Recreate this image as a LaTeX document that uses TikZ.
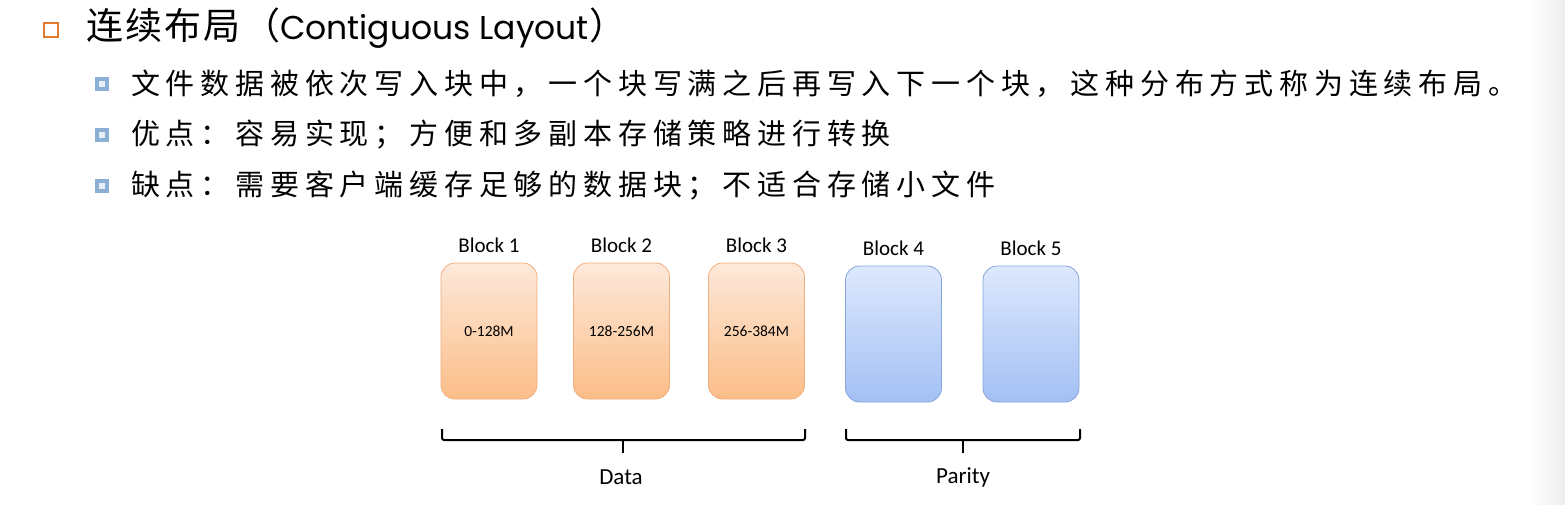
\documentclass[tikz,border=0pt]{standalone}
\usepackage{fontspec}
\setmainfont{Carlito}
\newfontfamily\cjk[LetterSpace=20]{Noto Sans CJK SC}
\newfontfamily\cjkt[LetterSpace=6]{Noto Sans CJK SC}
\newfontfamily\geo{Poppins}
\definecolor{otop}{HTML}{FDE9DA}
\definecolor{obot}{HTML}{FBBD88}
\definecolor{oline}{HTML}{F1AE7E}
\definecolor{btop}{HTML}{DDE8FD}
\definecolor{bbot}{HTML}{A3C0F4}
\definecolor{bline}{HTML}{86A6DA}
\definecolor{bulletorange}{HTML}{E47B2E}
\definecolor{bulletblue}{HTML}{8CAFD4}
\definecolor{bulletin}{HTML}{E9EFF7}
\tikzset{
  datablk/.style={rectangle, rounded corners=14, minimum width=96, minimum height=136, inner sep=0,
    draw=oline, line width=0.8, top color=otop, bottom color=obot, font=\fontsize{15.5}{17}\selectfont},
  parblk/.style={rectangle, rounded corners=14, minimum width=96, minimum height=136, inner sep=0,
    draw=bline, line width=0.8, top color=btop, bottom color=bbot},
  blklabel/.style={inner sep=0, font=\fontsize{21}{24}\selectfont},
  subbullet/.style={rectangle, draw=bulletblue, line width=4, fill=bulletin, minimum size=10, inner sep=0},
  line2/.style={anchor=west, inner sep=0, font=\cjk\fontsize{29}{32}\selectfont},
  brace/.style={line width=2, black, rounded corners=2},
}
\begin{document}
\begin{tikzpicture}[x=1pt,y=-1pt]
\useasboundingbox (0,0) rectangle (1565,505);
\fill[white] (0,0) rectangle (1565,505);
\shade[left color=white, right color=black!7] (1528,0) rectangle (1565,505);
% title
\node[rectangle, draw=bulletorange, line width=1.8, minimum size=14, inner sep=0] (tb) at (51,30) {};
\node[anchor=west, inner sep=0] (title) at (86,28)
  {\cjkt\fontsize{37}{40}\selectfont 连续布局（{\geo\fontsize{33}{36}\selectfont Contiguous Layout}）};
% bullets
\node[subbullet] (s1) at (101.5,84.5) {};
\node[line2] (t1) at (131,84) {文件数据被依次写入块中，一个块写满之后再写入下一个块，这种分布方式称为连续布局。};
\node[subbullet] (s2) at (101.5,135) {};
\node[line2] (t2) at (131,134.5) {优点：容易实现；方便和多副本存储策略进行转换};
\node[subbullet] (s3) at (101.5,186) {};
\node[line2] (t3) at (131,185.5) {缺点：需要客户端缓存足够的数据块；不适合存储小文件};
% blocks
\node[datablk] (b1) at (489,331) {0-128M};
\node[datablk] (b2) at (621.5,331) {128-256M};
\node[datablk] (b3) at (756.5,331) {256-384M};
\node[parblk] (b4) at (893.5,334) {};
\node[parblk] (b5) at (1031,334) {};
\node[blklabel] (l1) at (489,245) {Block 1};
\node[blklabel] (l2) at (621.5,245) {Block 2};
\node[blklabel] (l3) at (756.5,245) {Block 3};
\node[blklabel] (l4) at (893.5,248) {Block 4};
\node[blklabel] (l5) at (1031,248) {Block 5};
% braces
\draw[brace] (442,429) -- (442,440) -- (805,440) -- (805,429);
\draw[brace] (623,440) -- (623,453);
\draw[brace] (846,429) -- (846,440) -- (1080,440) -- (1080,429);
\draw[brace] (963,440) -- (963,453);
\node[blklabel, font=\fontsize{23}{26}\selectfont] (data) at (621,477) {Data};
\node[blklabel, font=\fontsize{23}{26}\selectfont] (parity) at (963,477) {Parity};
\end{tikzpicture}
\end{document}
